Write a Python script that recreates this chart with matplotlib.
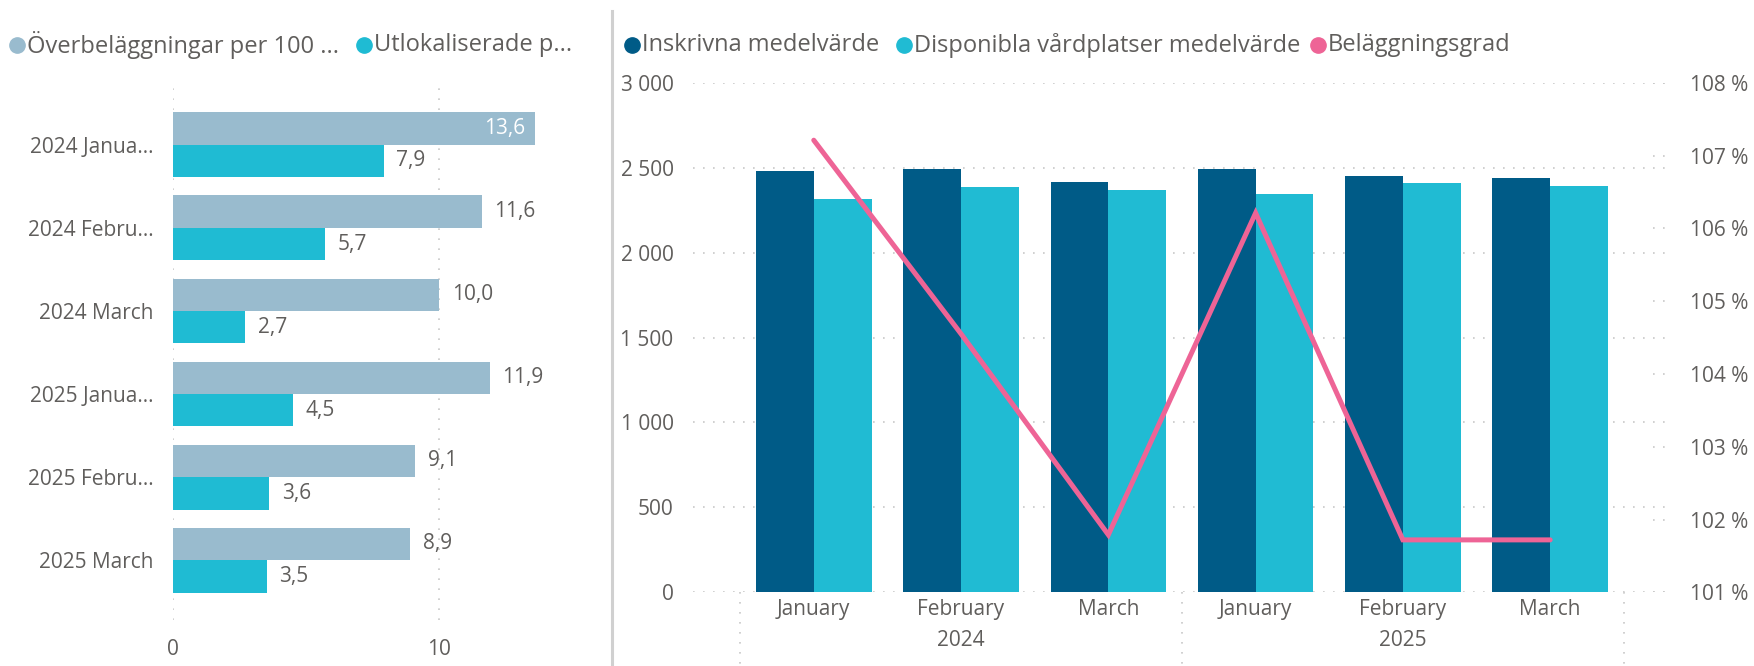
import matplotlib
matplotlib.use("Agg")
import matplotlib.pyplot as plt
from matplotlib.lines import Line2D
from matplotlib.transforms import blended_transform_factory
import numpy as np

plt.rcParams['font.family'] = ['Open Sans', 'DejaVu Sans']

# ---------------- data ----------------
left_categories = ["2024 Janua...", "2024 Febru...", "2024 March",
                   "2025 Janua...", "2025 Febru...", "2025 March"]
overbelaggningar = [13.6, 11.6, 10.0, 11.9, 9.1, 8.9]
utlokaliserade = [7.9, 5.7, 2.7, 4.5, 3.6, 3.5]
left_labels_over = ["13,6", "11,6", "10,0", "11,9", "9,1", "8,9"]
left_labels_utl = ["7,9", "5,7", "2,7", "4,5", "3,6", "3,5"]
left_xticks = [0, 10]

months = ["January", "February", "March", "January", "February", "March"]
years = ["2024", "2025"]
inskrivna = [2480, 2494, 2413, 2490, 2449, 2437]
disponibla = [2314, 2387, 2367, 2345, 2408, 2394]
belaggningsgrad = [107.21, 104.55, 101.79, 106.21, 101.72, 101.72]
left_yticks = [0, 500, 1000, 1500, 2000, 2500, 3000]
left_ytick_labels = ["0", "500", "1 000", "1 500", "2 000", "2 500", "3 000"]
right_yticks = [101, 102, 103, 104, 105, 106, 107, 108]

# ---------------- style ----------------
C_OVER = "#99BBCE"
C_UTL = "#1FBBD3"
C_INS = "#005B87"
C_DISP = "#20BBD3"
C_BEL = "#EE6496"
TXT = "#605E5C"
GRID = "#C8C8C8"
FS = 15
LFS = 17

W, H = 1754, 666
fig = plt.figure(figsize=(W / 100, H / 100), dpi=100)

def fx(px):
    return px / W

def fy(py):
    return 1 - py / H

# ---------------- left chart ----------------
axL = fig.add_axes([fx(173.4), fy(620), fx(599 - 173.4), fy(80) - fy(620)])
yL = np.arange(len(left_categories))
bh = 0.39
axL.barh(yL - bh / 2, overbelaggningar, height=bh, color=C_OVER, zorder=2)
axL.barh(yL + bh / 2, utlokaliserade, height=bh, color=C_UTL, zorder=2)
axL.set_xlim(0, 16)
axL.set_ylim(5.72, -0.78)
axL.set_yticks(yL)
axL.set_yticklabels(left_categories)
axL.set_xticks(left_xticks)
axL.set_xticklabels([str(t) for t in left_xticks])
axL.tick_params(axis="both", length=0, labelsize=FS, labelcolor=TXT)
axL.tick_params(axis="y", pad=14)
axL.tick_params(axis="x", pad=14)
for s in axL.spines.values():
    s.set_visible(False)
axL.grid(axis="x", color=GRID, linestyle=(0, (1, 5)), linewidth=1.2, zorder=0)
axL.set_axisbelow(True)
for i, (v, lab) in enumerate(zip(overbelaggningar, left_labels_over)):
    if v > 13:
        axL.annotate(lab, (v, yL[i] - bh / 2), xytext=(-7, 0), textcoords="offset points",
                     ha="right", va="center", color="white", fontsize=FS, zorder=3)
    else:
        axL.annotate(lab, (v, yL[i] - bh / 2), xytext=(9, 0), textcoords="offset points",
                     ha="left", va="center", color=TXT, fontsize=FS, zorder=3)
for i, (v, lab) in enumerate(zip(utlokaliserade, left_labels_utl)):
    axL.annotate(lab, (v, yL[i] + bh / 2), xytext=(9, 0), textcoords="offset points",
                 ha="left", va="center", color=TXT, fontsize=FS, zorder=3)

# divider
fig.add_artist(Line2D([fx(612), fx(612)], [fy(11), fy(666)], color="#D0D0D0", linewidth=2.2))

# ---------------- right chart ----------------
axR = fig.add_axes([fx(693), fy(592.3), fx(1668 - 693), fy(82.7) - fy(592.3)])
x = np.arange(len(months))
bw = 0.392
axR.bar(x - bw / 2, inskrivna, width=bw, color=C_INS, zorder=2)
axR.bar(x + bw / 2, disponibla, width=bw, color=C_DISP, zorder=2)
axR.set_xlim(-0.82, 5.8)
axR.set_ylim(0, 3000)
axR.set_yticks(left_yticks)
axR.set_yticklabels(left_ytick_labels)
axR.set_xticks(x)
axR.set_xticklabels(months)
axR.tick_params(axis="both", length=0, labelsize=FS, labelcolor=TXT)
axR.tick_params(axis="y", pad=14)
axR.tick_params(axis="x", pad=5)
for s in axR.spines.values():
    s.set_visible(False)
axR.grid(axis="y", color=GRID, linestyle=(0, (1, 5)), linewidth=1.2, zorder=0)
axR.set_axisbelow(True)

# year labels and separators
trans = blended_transform_factory(axR.transData, axR.transAxes)
for k, yr in enumerate(years):
    axR.text(1 + 3 * k, -0.095, yr, transform=trans, ha="center", va="center",
             fontsize=FS, color=TXT)
for b in [-0.5, 2.5, 5.5]:
    axR.plot([b, b], [0, -0.145], transform=trans, clip_on=False, color=GRID,
             linestyle=(0, (1, 5)), linewidth=1.2)

ax2 = axR.twinx()
ax2.plot(x, belaggningsgrad, color=C_BEL, linewidth=3.6, solid_capstyle="round",
         solid_joinstyle="miter", zorder=5)
ax2.set_ylim(101, 108)
ax2.set_yticks(right_yticks)
ax2.set_yticklabels([f"{t} %" for t in right_yticks])
ax2.tick_params(axis="y", length=0, labelsize=FS, labelcolor=TXT, pad=16)
for s in ax2.spines.values():
    s.set_visible(False)
for t in right_yticks:
    ax2.axhline(t, xmin=0.985, xmax=1.0, color=GRID, linestyle=(0, (1, 5)), linewidth=1.2)

# ---------------- legends ----------------
def legend_item(xm, xt, y, color, text):
    fig.add_artist(Line2D([fx(xm)], [fy(y)], marker="o", markersize=11, color=color,
                          linestyle=""))
    fig.text(fx(xt), fy(y), text, ha="left", va="center", fontsize=LFS, color=TXT)

legend_item(17, 27, 45, C_OVER, "Överbeläggningar per 100 ...")
legend_item(364, 374, 45, C_UTL, "Utlokaliserade p...")
legend_item(632, 642, 45, C_INS, "Inskrivna medelvärde")
legend_item(904, 914, 45, C_DISP, "Disponibla vårdplatser medelvärde")
legend_item(1318, 1328, 45, C_BEL, "Beläggningsgrad")

fig.savefig("out.png", dpi=100)
